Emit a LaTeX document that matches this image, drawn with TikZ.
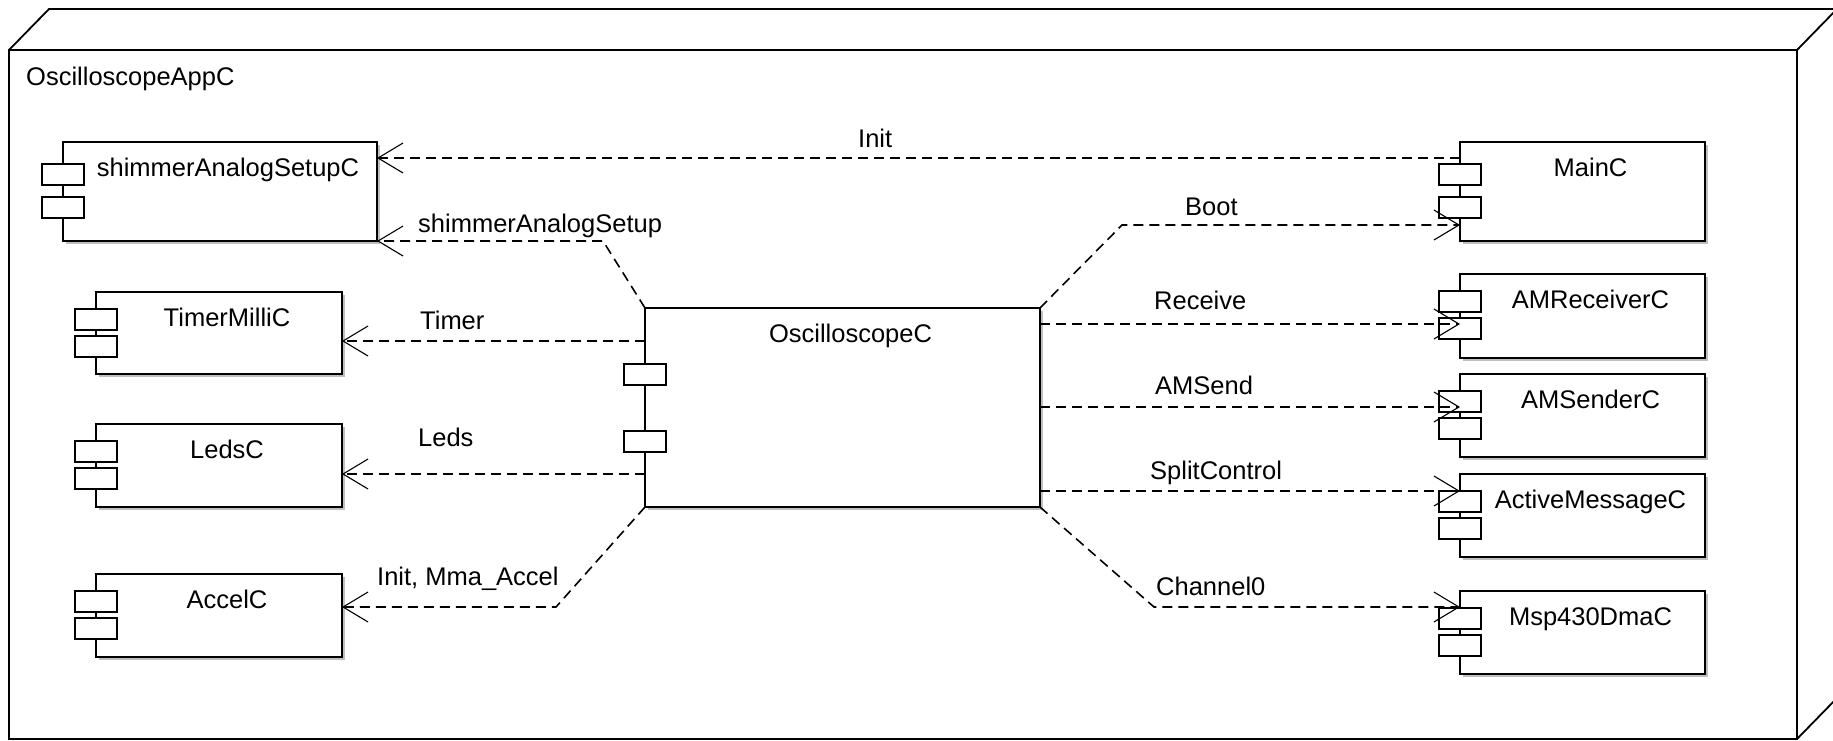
\documentclass[tikz,border=0pt]{standalone}
\usepackage{fontspec}
\setmainfont{Liberation Sans}
\usetikzlibrary{arrows.meta,shadows}
\tikzset{
  frameline/.style={line width=1.8pt},
  comp/.style={draw, line width=1.8pt, fill=white, anchor=north west, inner sep=0pt, outer sep=0pt,
    drop shadow={shadow xshift=2.5pt, shadow yshift=-2.5pt, opacity=0.25, fill=black}},
  port/.style={draw, line width=1.6pt, fill=white, minimum width=42pt, minimum height=21pt, inner sep=0pt, outer sep=0pt, anchor=north},
  ctext/.style={anchor=base, font=\fontsize{25.5}{30}\selectfont, inner sep=0pt},
  clbl/.style={anchor=base west, font=\fontsize{25.5}{30}\selectfont, inner sep=0pt},
  dep/.style={line width=1.6pt, dash pattern=on 10pt off 6pt, -{Straight Barb[length=25pt,width=30pt,line width=1.1pt]}},
}
% name, x, y, w, h, text, port1 offset, port2 offset
\newcommand\mycomp[8]{%
  \node[comp, minimum width=#4pt, minimum height=#5pt] (#1) at (#2,#3) {};
  \node[port] (#1-p1) at ([yshift=-#7pt]#1.north west) {};
  \node[port] (#1-p2) at ([yshift=-#8pt]#1.north west) {};
  \node[ctext] (#1-t) at ([xshift=8pt,yshift=-34pt]#1.north) {#6};
}
\begin{document}
\begin{tikzpicture}[x=1pt,y=-1pt]
\clip (0,0) rectangle (1833,740);
\useasboundingbox (0,0) rectangle (1833,740);
% outer node
\node[draw, frameline, anchor=north west, minimum width=1788pt, minimum height=689pt, inner sep=0pt, outer sep=0pt] (app) at (9,50) {};
\draw[frameline] (app.north west) -- ++(40,-41) -- ++(1788,0) coordinate (bk) -- ++(0,689) -- (app.south east);
\draw[frameline] (app.north east) -- (bk);
\node[clbl] (appname) at (26,85) {OscilloscopeAppC};

% components
\mycomp{shim}{63}{142}{314}{99}{shimmerAnalogSetupC}{22}{55}
\mycomp{timer}{96}{292}{246}{82}{TimerMilliC}{17}{44}
\mycomp{leds}{96}{424}{246}{83}{LedsC}{17}{44}
\mycomp{accel}{96}{574}{246}{83}{AccelC}{17}{44}
\mycomp{osc}{645}{308}{395}{199}{OscilloscopeC}{56}{123}
\mycomp{main}{1460}{142}{245}{99}{MainC}{22}{55}
\mycomp{amrec}{1460}{274}{245}{84}{AMReceiverC}{17}{44}
\mycomp{amsend}{1460}{374}{245}{83}{AMSenderC}{17}{44}
\mycomp{amc}{1460}{474}{245}{83}{ActiveMessageC}{17}{44}
\mycomp{dma}{1460}{591}{245}{83}{Msp430DmaC}{17}{44}

% bend points
\coordinate (bS) at (603,241);
\coordinate (bA) at (556,607);
\coordinate (bB) at (1122,225);
\coordinate (bC) at (1154,607);

% connectors
\draw[dep] ([yshift=-16pt]main.north west) -- ([yshift=-16pt]shim.north east);
\draw[dep] (osc.north west) -- (bS) -- (bS -| shim.east);
\draw[dep] ([yshift=-33pt]osc.north west) coordinate (cT) -- (cT -| timer.east);
\draw[dep] ([yshift=33pt]osc.south west) coordinate (cL) -- (cL -| leds.east);
\draw[dep] (osc.south west) -- (bA) -- (bA -| accel.east);
\draw[dep] (osc.north east) -- (bB) -- (bB -| main.west);
\draw[dep] ([yshift=-16pt]osc.north east) coordinate (cR) -- (cR -| amrec.west);
\draw[dep] ([yshift=0.5pt]osc.east) coordinate (cM) -- (cM -| amsend.west);
\draw[dep] ([yshift=16pt]osc.south east) coordinate (cS) -- (cS -| amc.west);
\draw[dep] (osc.south east) -- (bC) -- (bC -| dma.west);

% connector labels
\node[clbl] (lInit) at (858,147) {Init};
\node[clbl] (lShim) at (418,232) {shimmerAnalogSetup};
\node[clbl] (lTimer) at (420,329) {Timer};
\node[clbl] (lLeds) at (418,446) {Leds};
\node[clbl] (lAccel) at (377,585) {Init, Mma\_Accel};
\node[clbl] (lBoot) at (1185,215) {Boot};
\node[clbl] (lRec) at (1154,309) {Receive};
\node[clbl] (lSend) at (1155,394) {AMSend};
\node[clbl] (lSplit) at (1150,479) {SplitControl};
\node[clbl] (lChan) at (1156,595) {Channel0};
\end{tikzpicture}
\end{document}
